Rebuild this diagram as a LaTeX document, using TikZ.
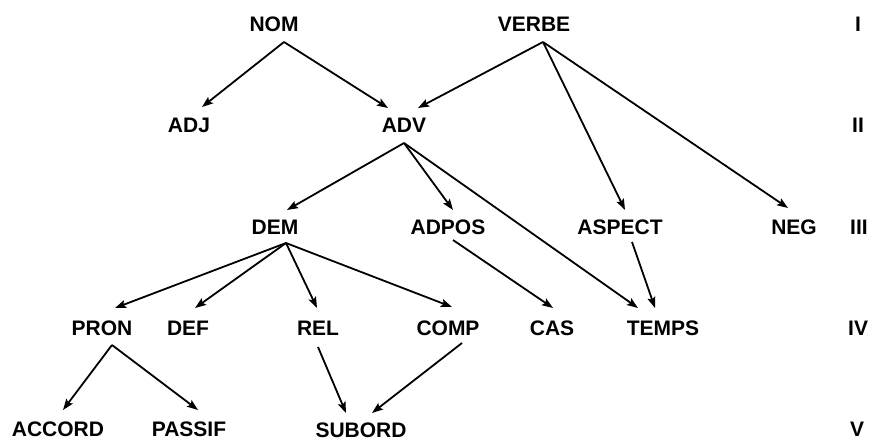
\documentclass[tikz,border=0pt]{standalone}
\usepackage{fontspec}
\setmainfont{Liberation Sans}
\usetikzlibrary{arrows.meta}
\begin{document}
\begin{tikzpicture}[x=1pt,y=-1pt,
  lbl/.style={font=\fontsize{21}{23}\selectfont\bfseries, inner sep=0pt, anchor=center},
  lvl/.style={font=\fontsize{21}{23}\selectfont\bfseries, inner sep=0pt, anchor=west},
  arr/.style={line width=1.8pt, -{Stealth[length=11pt,width=8pt,inset=2pt]}}]
\useasboundingbox[fill=white] (0,0) rectangle (869,441);
% level 1
\node[lbl] (NOM) at (274,24) {NOM};
\node[lbl] (VERBE) at (534,24) {VERBE};
% level 2
\node[lbl] (ADJ) at (189,125) {ADJ};
\node[lbl] (ADV) at (404,125) {ADV};
% level 3
\node[lbl] (DEM) at (275,227) {DEM};
\node[lbl] (ADPOS) at (448,227) {ADPOS};
\node[lbl] (ASPECT) at (620,227) {ASPECT};
\node[lbl] (NEG) at (794,227) {NEG};
% level 4
\node[lbl] (PRON) at (102,328) {PRON};
\node[lbl] (DEF) at (188,328) {DEF};
\node[lbl] (REL) at (318,328) {REL};
\node[lbl] (COMP) at (448,328) {COMP};
\node[lbl] (CAS) at (552,328) {CAS};
\node[lbl] (TEMPS) at (663,328) {TEMPS};
% level 5
\node[lbl] (ACCORD) at (58,429) {ACCORD};
\node[lbl] (PASSIF) at (189,429) {PASSIF};
\node[lbl] (SUBORD) at (361,430) {SUBORD};
% level numerals
\node[lvl] (L1) at (855,24) {I};
\node[lvl] (L2) at (852,125) {II};
\node[lvl] (L3) at (850,227) {III};
\node[lvl] (L4) at (848,328) {IV};
\node[lvl] (L5) at (850,429) {V};
% arrows
\draw[arr] ([shift={(10,18)}]NOM.center) -- ([shift={(13,-18)}]ADJ.center);
\draw[arr] ([shift={(10,18)}]NOM.center) -- ([shift={(-16,-17)}]ADV.center);
\draw[arr] ([shift={(9,18)}]VERBE.center) -- ([shift={(14,-17)}]ADV.center);
\draw[arr] ([shift={(9,18)}]VERBE.center) -- ([shift={(5,-17)}]ASPECT.center);
\draw[arr] ([shift={(9,18)}]VERBE.center) -- ([shift={(-6,-19)}]NEG.center);
\draw[arr] ([shift={(0,18)}]ADV.center) -- ([shift={(12,-17)}]DEM.center);
\draw[arr] ([shift={(0,18)}]ADV.center) -- ([shift={(5,-17)}]ADPOS.center);
\draw[arr] ([shift={(0,18)}]ADV.center) -- ([shift={(-25,-20)}]TEMPS.center);
\draw[arr] ([shift={(11,16)}]DEM.center) -- ([shift={(13,-20)}]PRON.center);
\draw[arr] ([shift={(11,16)}]DEM.center) -- ([shift={(7,-20)}]DEF.center);
\draw[arr] ([shift={(11,16)}]DEM.center) -- ([shift={(-1,-20)}]REL.center);
\draw[arr] ([shift={(11,16)}]DEM.center) -- ([shift={(4,-21)}]COMP.center);
\draw[arr] ([shift={(5,13)}]ADPOS.center) -- ([shift={(1,-20)}]CAS.center);
\draw[arr] ([shift={(12,15)}]ASPECT.center) -- ([shift={(-8,-20)}]TEMPS.center);
\draw[arr] ([shift={(10,17)}]PRON.center) -- ([shift={(5,-19)}]ACCORD.center);
\draw[arr] ([shift={(10,17)}]PRON.center) -- ([shift={(9,-19)}]PASSIF.center);
\draw[arr] ([shift={(0,19)}]REL.center) -- ([shift={(-15,-17)}]SUBORD.center);
\draw[arr] ([shift={(14,15)}]COMP.center) -- ([shift={(11,-17)}]SUBORD.center);
\end{tikzpicture}
\end{document}
